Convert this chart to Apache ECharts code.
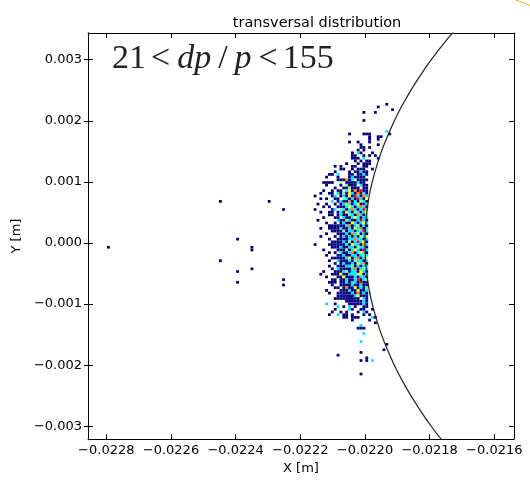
<!DOCTYPE html>
<html>
<head>
<meta charset="utf-8">
<script src="https://cdn.jsdelivr.net/npm/echarts@6/dist/echarts.min.js"></script>
<style>
html, body { margin: 0; padding: 0; background: #fff; }
#chart { width: 530px; height: 480px; }
</style>
</head>
<body>
<div id="chart"></div>
<script>
// axis ticks
var xTicks = [-0.0228, -0.0226, -0.0224, -0.0222, -0.0220, -0.0218, -0.0216];
var yTicks = [-0.003, -0.002, -0.001, 0, 0.001, 0.002, 0.003];

// histogram bins: lower-left corner of bin (0,0) and bin size, in metres
var binX0 = -0.0227978, binW = 8.876e-6;
var binY0 = -0.0021672, binH = 4.415e-5;

// dense part: columns 68..99, rows 100 (top) down to 0, digit = level (1..9), '.' = empty
var denseCol0 = 68, denseRowTop = 100;
var denseRows = [
  ".... .... .... .... .... .... .... .1..",
  ".... .... .... .... .... .... ..1. ....",
  ".... .... .... .... .... .... .... ...1",
  ".... .... .... .... .... .1.. .1.. ....",
  ".... .... .... .... .... .... .... ....",
  ".... .... .... .... .... .... .... ....",
  ".... .... .... .... .... .1.. .... ....",
  ".... .... .... .... .... .... .... ....",
  ".... .... .... .... .... .... .... ....",
  ".... .... .... .... .... .... .... ....",
  ".... .... .... .... .... .... .... .4..",
  ".... .... .... .... 1... .111 .... ..1.",
  ".... .... .... .... .... ...1 ..11 ....",
  ".... .... .... .... .... ...1 ..1. ....",
  ".... .... .... .... 1..1 ...1 .... ....",
  ".... .... .... .... .... 1... ..1. ....",
  ".... .... .... .... .... 11.1 .... ....",
  ".... .... .... .... ...1 .1.. .... ....",
  ".... .... .... .... .1.4 1... 1... ....",
  ".... .... .... .... .11. .1.1 .1.. ....",
  ".... .... .... .... .111 .4.. ..1. ....",
  ".... .... .... .... ..1. 1.11 .... ....",
  ".... .... .... ...1 ...1 .111 .... ....",
  ".... .... ...1 .1.. .11. .11. .... ....",
  ".... .... .... .11. .1.1 11.. 1... ....",
  ".... .... ...1 .... 1.11 411. .... ....",
  ".... .... .11. 4... 11.1 141. .... ....",
  ".... .... 1... 1... 1411 11.. .... ....",
  ".... .... .... 1117 14.1 111. .... ....",
  ".... ...1 111. .5.1 1114 11.. .... ....",
  ".... .... 1... .1.5 111. 411. .... ....",
  ".... .... ...1 ..11 5111 .11. .... ....",
  ".... ...1 ..1. 11.4 6171 811. .... ....",
  ".... ..1. .11. 4151 6417 941. .... ....",
  ".... 1... ..14 .141 6184 174. .... ....",
  ".... ..1. 1..1 1.54 1418 416. .... ....",
  ".... .... ..4. 1411 7141 541. .... ....",
  ".... .1.. 1..1 .145 4146 194. .... ....",
  ".... ...1 .1.. 1114 6414 741. .... ....",
  ".... 1... ..14 .541 4741 484. .... ....",
  ".... ..1. .11. 1416 4154 146. .... ....",
  ".... .... .11. 1411 5417 415. .... ....",
  ".... ...1 ...1 1.41 1464 144. .... ....",
  ".... .1.. .... 4115 4114 841. .... ....",
  ".... .... 1..1 .141 1641 464. .... ....",
  ".... .... .111 1114 7145 141. .... ....",
  ".... ..1. .111 1411 4164 714. .... ....",
  ".... .... ..11 1151 4414 484. .... ....",
  ".... .... 1... 1114 1746 141. .... ....",
  ".... ..1. ...1 .141 4141 546. .... ....",
  ".... .... .1.. 1111 4474 414. .... ....",
  ".... .... ..11 1141 5148 461. .... ....",
  ".... 1... .111 1114 1644 174. .... ....",
  ".... .... ..11 1411 4415 441. .... ....",
  ".... ...1 .... 1115 1464 184. .... ....",
  ".... .... .1.1 .411 4714 641. .... ....",
  ".... .... 1... 1141 1441 454. .... ....",
  ".... .... ..11 1114 6147 146. .... ....",
  ".... .... .1.. 4111 4154 414. .... ....",
  ".... .... ...1 .141 1416 471. .... ....",
  ".... .... .1.. 1114 4514 144. .... ....",
  ".... .... ..1. 4111 1471 454. .... ....",
  ".... ...1 ...1 1145 1441 641. .... ....",
  ".... ..1. ..11 1611 4445 614. .... ....",
  ".... .... 1... 1161 1141 441. .... ....",
  ".... .... ..11 .114 1148 145. .... ....",
  ".... .... .111 .114 1441 811. .... ....",
  ".... .... ..1. .111 1411 411. .... ....",
  ".... .... ...1 1.17 1161 415. .... ....",
  ".... .... 1... .111 4116 114. .... ....",
  ".... .... .1.. 1111 1417 1415 .... ....",
  ".... .... .... 1111 1146 111. .... ....",
  ".... .... ...1 1111 1111 .41. .... ....",
  ".... .... .... ...1 1111 141. .... ....",
  ".... .... 4..1 .... 1111 141. .... ....",
  ".... .... .... 4.1. 4.1. .11. .... ....",
  ".... .... ...1 .... 41.. 11.. 1... ....",
  ".... .... ..1. .1.1 ...1 .41. .... ....",
  ".... .... .1.. 4.11 .1.. .1.1 .... ....",
  ".... .... .... ..11 .111 .... 41.. ....",
  ".... .... .... .... .1.. ...1 .... ....",
  ".... .... .... .... .... .... .1.. ....",
  ".... .... .... .... .... 4... .... ....",
  ".... .... .... .... ...1 11.. .... ....",
  ".... .... .... .... .... .... .... ....",
  ".... .... .... .... .... .4.. .... ....",
  ".... .... .... .... .... .... .... ....",
  ".... .... .... .... .... .... .... ....",
  ".... .... .... .... .... 4... .... ....",
  ".... .... .... .... .... .... .... .1..",
  ".... .... .... .... .... .... .... ....",
  ".... .... .... .... .... .... .... 1...",
  ".... .... .... .... .... 1... .... ....",
  ".... .... .... 1... .... .... .... ....",
  ".... .... .... .... .... ..1. .... ....",
  ".... .... .... .... .... 1.1. 4... ....",
  ".... .... .... .... .... .... .... ....",
  ".... .... .... .... .... .... .... ....",
  ".... .... .... .... .... .... .... ....",
  ".... .... .... .... .... .... .... ....",
  ".... .... .... .... .... 1... .... ...."
];

// isolated cells further left: [column, row, level]
var strayCells = [
  [0, 47, 1], [39, 64, 1], [56, 64, 1], [61, 61, 1], [45, 50, 1],
  [50, 47, 1], [50, 46, 1], [39, 42, 1], [50, 39, 1], [45, 38, 1],
  [61, 35, 1], [45, 34, 1], [61, 33, 1]
];

// black circle arc
var arcY = [0.0036, 0.0033, 0.0030, 0.0027, 0.0024, 0.0021, 0.0018, 0.0015, 0.0012, 0.0009, 0.0006, 0.0003, 0,
            -0.0003, -0.0006, -0.0009, -0.0012, -0.0015, -0.0018, -0.0021, -0.0024, -0.0027, -0.0030, -0.0033, -0.0036];
var arcX = [-0.021703, -0.021751, -0.021795, -0.021834, -0.021869, -0.021900, -0.021926, -0.021949, -0.021967,
            -0.021982, -0.021992, -0.021998, -0.022000, -0.021998, -0.021992, -0.021982, -0.021967, -0.021949,
            -0.021926, -0.021900, -0.021869, -0.021834, -0.021795, -0.021751, -0.021703];

// orange stroke at the top right corner, outside the axes
var edgeX = [-0.021567, -0.021475];
var edgeY = [0.004045, 0.003859];

// jet colormap, one colour per level 1..9
var jet = ['#00007f', '#0000ff', '#007fff', '#00e5ff', '#7fff7f', '#ffff00', '#ff7f00', '#ff0000', '#7f0000'];

var cells = [];
denseRows.forEach(function (row, i) {
  var s = row.replace(/ /g, '');
  for (var k = 0; k < s.length; k++) {
    if (s[k] === '.') continue;
    cells.push([binX0 + (denseCol0 + k) * binW, binY0 + (denseRowTop - i) * binH, +s[k]]);
  }
});
strayCells.forEach(function (c) {
  cells.push([binX0 + c[0] * binW, binY0 + c[1] * binH, c[2]]);
});

function zip(a, b) { return a.map(function (v, i) { return [v, b[i]]; }); }
function fmt(d) {
  return function (v) { return (v < 0 ? '\u2212' : '') + Math.abs(v).toFixed(d); };
}

var xMin = -0.0228566, xMax = -0.0215391;
var yMin = -0.0032103, yMax = 0.0034367;
var font = 'DejaVu Sans';
var tickFont = { fontFamily: font, fontSize: 13, color: '#000' };

function xAx(pos, labels) {
  return {
    type: 'value', min: xMin, max: xMax, position: pos,
    name: labels ? 'X [m]' : '', nameLocation: 'middle', nameGap: 18,
    nameTextStyle: tickFont,
    axisLine: { onZero: false, lineStyle: { color: '#000', width: 1 } },
    axisTick: { inside: true, length: 5, customValues: xTicks, lineStyle: { color: '#000' } },
    axisLabel: Object.assign({ show: labels, customValues: xTicks, formatter: fmt(4), margin: 5 }, tickFont),
    splitLine: { show: false }
  };
}
function yAx(pos, labels, inside) {
  return {
    type: 'value', min: yMin, max: yMax, position: pos,
    name: labels ? 'Y [m]' : '', nameLocation: 'middle', nameGap: 56,
    nameTextStyle: tickFont,
    axisLine: { onZero: false, lineStyle: { color: '#000', width: 1 } },
    axisTick: { inside: inside, length: inside ? 5 : 4, customValues: yTicks, lineStyle: { color: '#000' } },
    axisLabel: Object.assign({ show: labels, customValues: yTicks, formatter: fmt(3), margin: 6 }, tickFont),
    splitLine: { show: false }
  };
}

var chart = echarts.init(document.getElementById('chart'));
chart.setOption({
  animation: false,
  backgroundColor: '#fff',
  title: {
    text: 'transversal distribution', left: 312, top: 11, textAlign: 'center',
    textStyle: { fontFamily: font, fontSize: 14.5, fontWeight: 'normal', color: '#000' }
  },
  grid: { left: 88, top: 33, width: 426, height: 411 },
  xAxis: [xAx('bottom', true), xAx('top', false)],
  yAxis: [yAx('left', true, true), yAx('right', false, true), yAx('left', false, false)],
  graphic: [{
    type: 'text', left: 111, top: 42,
    style: {
      text: '{n|21}{r|<}{i|dp}{s|/}{i|p}{r|<}{n|155}',
      fill: '#222',
      rich: {
        n: { fontFamily: 'Liberation Serif', fontSize: 34, lineHeight: 34, padding: [0, 1] },
        i: { fontFamily: 'Liberation Serif', fontSize: 34, lineHeight: 34, fontStyle: 'italic', padding: [0, 3] },
        r: { fontFamily: 'Liberation Serif', fontSize: 34, lineHeight: 34, padding: [0, 4] },
        s: { fontFamily: 'Liberation Serif', fontSize: 34, lineHeight: 34, padding: [0, 4] }
      }
    }
  }],
  series: [
    {
      type: 'custom', xAxisIndex: 0, yAxisIndex: 0,
      data: cells,
      renderItem: function (params, api) {
        var x = api.value(0), y = api.value(1);
        var p0 = api.coord([x, y + binH]);
        var p1 = api.coord([x + binW, y]);
        return {
          type: 'rect',
          shape: { x: p0[0], y: p0[1], width: p1[0] - p0[0], height: p1[1] - p0[1] },
          style: { fill: jet[api.value(2) - 1] }
        };
      }
    },
    {
      type: 'line', xAxisIndex: 0, yAxisIndex: 0,
      data: zip(arcX, arcY), smooth: true, showSymbol: false, symbol: 'none',
      lineStyle: { color: '#222', width: 1.2 }
    },
    {
      type: 'custom', xAxisIndex: 0, yAxisIndex: 0, clip: false,
      data: [[edgeX[0], edgeY[0], edgeX[1], edgeY[1]]],
      renderItem: function (params, api) {
        var a = api.coord([api.value(0), api.value(1)]);
        var b = api.coord([api.value(2), api.value(3)]);
        return {
          type: 'line',
          shape: { x1: a[0], y1: a[1], x2: b[0], y2: b[1] },
          style: { stroke: '#ffa500', lineWidth: 1 }
        };
      }
    }
  ]
});
</script>
</body>
</html>
